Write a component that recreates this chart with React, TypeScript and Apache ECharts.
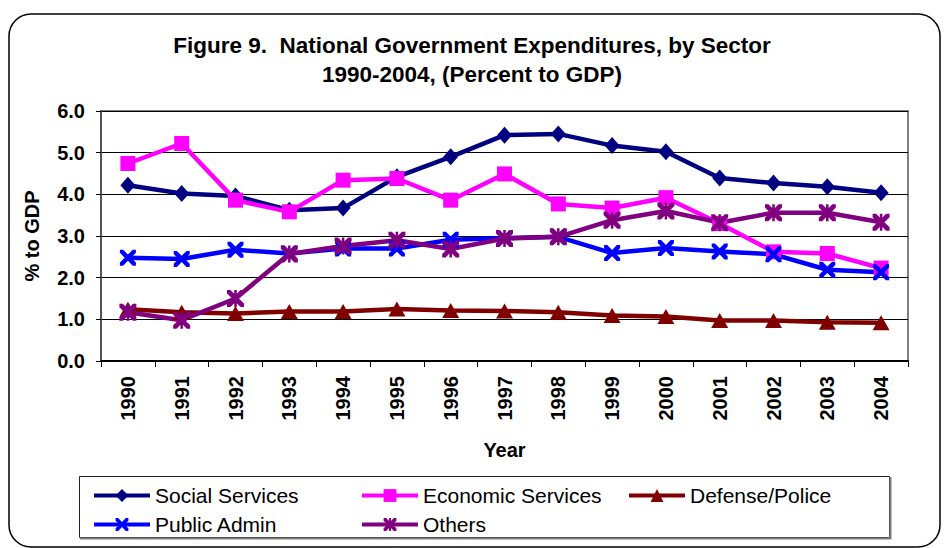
import React, { useEffect, useRef } from "react";
import * as echarts from "echarts";

const years = ["1990","1991","1992","1993","1994","1995","1996","1997","1998","1999","2000","2001","2002","2003","2004"];
const socialServices = [4.22, 4.02, 3.96, 3.62, 3.67, 4.42, 4.9, 5.42, 5.45, 5.17, 5.02, 4.39, 4.27, 4.18, 4.04];
const economicServices = [4.74, 5.22, 3.86, 3.58, 4.34, 4.38, 3.86, 4.49, 3.77, 3.67, 3.92, 3.3, 2.62, 2.58, 2.23];
const defensePolice = [1.24, 1.17, 1.14, 1.19, 1.19, 1.25, 1.21, 1.2, 1.17, 1.09, 1.07, 0.97, 0.97, 0.93, 0.92];
const publicAdmin = [2.48, 2.45, 2.67, 2.58, 2.7, 2.7, 2.91, 2.95, 2.98, 2.59, 2.71, 2.63, 2.56, 2.19, 2.13];
const others = [1.17, 0.98, 1.5, 2.57, 2.76, 2.9, 2.69, 2.94, 2.98, 3.38, 3.6, 3.32, 3.56, 3.56, 3.33];

const FONT = "'Liberation Sans', Arial, Helvetica, sans-serif";
const CROSS = "M0,0L4,0L10,6L16,0L20,0L20,4L14,10L20,16L20,20L16,20L10,14L4,20L0,20L0,16L6,10L0,4Z";
const STAR = CROSS + "M8.5,0L11.5,0L11.5,20L8.5,20Z";

export default function App() {
  const ref = useRef<HTMLDivElement>(null);
  useEffect(() => {
    if (!ref.current) return;
    const chart = echarts.init(ref.current, null, { renderer: "svg" });
    const mk = (name: string, data: number[], color: string, symbol: string, size: any) => ({
      name,
      type: "line",
      data,
      symbol,
      symbolSize: size,
      showAllSymbol: true,
      lineStyle: { color, width: 4.5 },
      itemStyle: { color },
      emphasis: { disabled: true },
    });
    const legendText = { fontFamily: FONT, fontSize: 21, color: "#000", lineHeight: 21 };
    const legendBase = {
      orient: "vertical",
      top: 485,
      itemWidth: 56,
      itemHeight: 16,
      itemGap: 8,
      padding: 0,
      textStyle: legendText,
      selectedMode: false,
      lineStyle: { width: 4 },
    };
    chart.setOption({
      animation: false,
      backgroundColor: "#fff",
      title: {
        text: "Figure 9.  National Government Expenditures, by Sector\n1990-2004, (Percent to GDP)",
        left: "center",
        top: 31,
        padding: 0,
        textStyle: { fontFamily: FONT, fontSize: 22.5, fontWeight: "bold", color: "#000", lineHeight: 29 },
      },
      graphic: [
        {
          type: "rect",
          shape: { x: 9, y: 14, width: 931, height: 533, r: 22 },
          style: { fill: "none", stroke: "#000", lineWidth: 1.5 },
          z: -10,
        },
        {
          type: "rect",
          shape: { x: 79.5, y: 476.5, width: 810, height: 61 },
          style: { fill: "#fff", stroke: "#222", lineWidth: 1 },
          z: -5,
        },
        {
          type: "polyline",
          shape: { points: [[890.5, 477], [890.5, 538.5], [80, 538.5]] },
          style: { fill: "none", stroke: "#808080", lineWidth: 2 },
          z: -4,
        },
      ],
      legend: [
        { ...legendBase, data: ["Social Services", "Public Admin"], left: 92 },
        { ...legendBase, data: ["Economic Services", "Others"], left: 360 },
        { ...legendBase, data: ["Defense/Police"], left: 627 },
      ],
      grid: {
        left: 101,
        top: 111,
        right: 36,
        bottom: 187,
        show: true,
        borderColor: "#808080",
        borderWidth: 2,
        backgroundColor: "transparent",
      },
      xAxis: {
        type: "category",
        data: years,
        boundaryGap: true,
        name: "Year",
        nameLocation: "middle",
        nameGap: 79,
        nameTextStyle: { fontFamily: FONT, fontSize: 20, fontWeight: "bold", color: "#000" },
        axisLine: { show: true, lineStyle: { color: "#000", width: 2 } },
        axisTick: { show: true, alignWithLabel: false, length: 6, lineStyle: { color: "#000", width: 1 } },
        axisLabel: {
          rotate: 90,
          margin: 15,
          fontFamily: FONT,
          fontSize: 20,
          fontWeight: "bold",
          color: "#000",
          interval: 0,
        },
        splitLine: { show: false },
      },
      yAxis: {
        type: "value",
        min: 0,
        max: 6,
        interval: 1,
        name: "% to GDP",
        nameLocation: "middle",
        nameGap: 59,
        nameRotate: 90,
        nameTextStyle: { fontFamily: FONT, fontSize: 20, fontWeight: "bold", color: "#000" },
        axisLine: { show: true, lineStyle: { color: "#555", width: 2 } },
        axisTick: { show: true, length: 5, lineStyle: { color: "#000", width: 1 } },
        axisLabel: {
          margin: 16,
          fontFamily: FONT,
          fontSize: 20,
          fontWeight: "bold",
          color: "#000",
          formatter: (v: number) => v.toFixed(1),
        },
        splitLine: { show: true, lineStyle: { color: "#000", width: 1 } },
      },
      series: [
        mk("Social Services", socialServices, "#000080", "diamond", [15, 17]),
        mk("Economic Services", economicServices, "#FF00FF", "rect", 15),
        mk("Defense/Police", defensePolice, "#800000", "triangle", [17, 15]),
        mk("Public Admin", publicAdmin, "#0000FF", "path://" + CROSS, 16),
        mk("Others", others, "#800080", "path://" + STAR, 17),
      ],
    });
    return () => chart.dispose();
  }, []);
  return (
    <div
      ref={ref}
      style={{ position: "absolute", left: 0, top: 0, width: 944, height: 548 }}
    />
  );
}
